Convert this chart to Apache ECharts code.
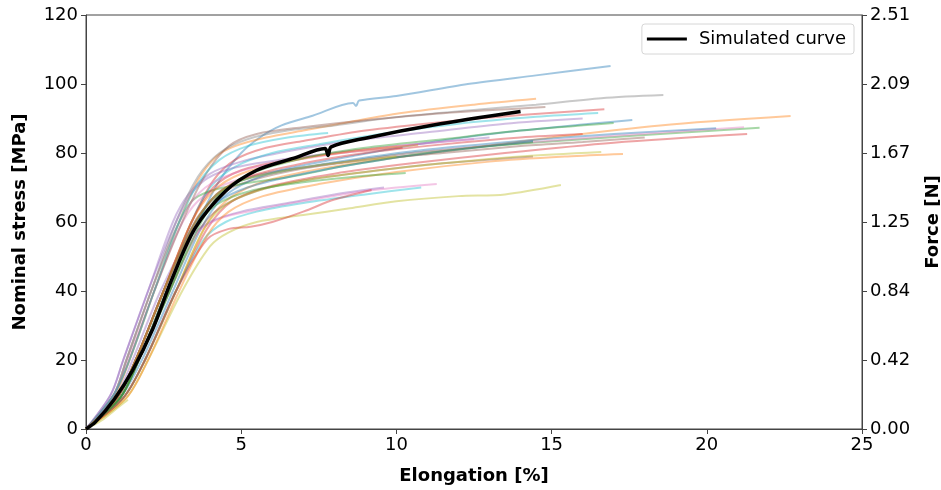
<!DOCTYPE html>
<html>
<head>
<meta charset="utf-8">
<script src="https://cdn.jsdelivr.net/npm/echarts@6/dist/echarts.min.js"></script>
<style>
  html, body { margin: 0; padding: 0; background: #fff; }
  #chart { width: 941px; height: 490px; }
</style>
</head>
<body>
<div id="chart"></div>
<script>
// x: elongation [%], y: nominal stress [MPa]
const simulated = [[0, 0], [0.3, 2], [0.9, 8.5], [1.5, 17], [2.15, 29], [2.75, 43], [3.5, 58], [4.5, 69], [5.5, 75],
  [6.7, 78.5], [7.7, 81.3], [7.8, 79.3], [7.9, 81.8], [9, 84.3], [11.2, 88.1], [14, 92]]

const stressTicks = [0, 20, 40, 60, 80, 100, 120]
const forceLabels = ['0.00', '0.42', '0.84', '1.25', '1.67', '2.09', '2.51']
const elongTicks = [0, 5, 10, 15, 20, 25]

// measured curves, one array per specimen
const expCurves = [
  [[0, 0], [1.0, 9], [1.7, 20], [2.6, 40], [3.5, 58], [4.3, 72], [5, 80], [5.6, 84.5], [6.3, 88], [7.3, 90.8], [8.6, 94.5], [8.7, 93.6], [8.8, 95.2], [10, 96.5], [12.3, 100], [14.5, 102.5], [16.9, 105.2]],
  [[0, 0], [0.9, 9], [1.4, 20], [2.2, 40], [3.0, 60], [3.6, 72], [4.2, 79], [4.8, 82], [5.8, 84.5], [7, 86.5], [8.5, 89], [10.1, 91.5], [12.5, 94], [14.5, 95.7]],
  [[0, 0], [1.1, 9], [1.7, 20], [2.7, 40], [3.6, 60], [4.2, 68], [5, 72], [6, 74.5], [8, 77], [10, 79.5], [13, 82], [16, 84], [19, 85.8], [21.7, 87.3]],
  [[0, 0], [1.0, 9], [1.6, 20], [2.5, 40], [3.4, 60], [4.1, 72], [4.8, 78], [5.8, 81.5], [7, 83.5], [9, 86.5], [11.5, 89], [14, 91], [16.7, 92.7]],
  [[0, 0], [0.8, 10], [1.2, 20], [2.0, 40], [2.8, 60], [3.3, 68], [4, 74], [5, 77.5], [6.5, 80.5], [8.5, 83.5], [11, 86], [13.5, 88.5], [16, 90]],
  [[0, 0], [1.1, 9], [1.7, 20], [2.6, 40], [3.5, 60], [4.3, 68], [5.3, 72], [7, 75.5], [9, 78], [11.5, 80], [14, 82], [16, 83.2], [18, 84.5]],
  [[0, 0], [0.9, 10], [1.35, 20], [2.2, 40], [3.0, 58], [3.6, 66], [4.5, 71], [6, 74.5], [8, 77], [10.5, 80], [13.5, 82.5], [17, 85], [21.2, 87.5]],
  [[0, 0], [0.9, 10], [1.3, 20], [2.1, 40], [2.9, 60], [3.6, 73], [4.3, 80], [5.2, 84], [6.5, 86.5], [8, 88], [10, 90.4], [12.5, 92.5], [14.5, 94], [16.6, 95.9], [18.6, 96.8]],
  [[0, 0], [1.3, 9], [2.0, 20], [3.1, 40], [4.0, 53], [4.6, 57], [5.5, 60], [7, 62], [8.5, 64], [10, 66], [12, 67.5], [13.5, 68], [15.3, 70.7]],
  [[0, 0], [1.0, 9], [1.6, 20], [2.5, 40], [3.4, 60], [4, 70], [4.8, 76], [6, 80], [7.5, 82.5], [9.5, 85.5], [12, 88.5], [14.5, 90.5], [16.5, 91.6]],
  [[0, 0], [1.1, 9], [1.8, 20], [2.8, 40], [3.7, 58], [4.4, 67], [5.3, 72], [6.5, 75.5], [8.5, 79], [11, 83], [14, 86.5], [17.6, 89.6]],
  [[0, 0], [1.2, 9], [1.9, 20], [2.9, 40], [3.8, 58], [4.5, 66], [5.5, 71], [7, 74.5], [9, 77.5], [12, 81], [15, 84.5], [18.5, 88], [22.7, 90.7]],
  [[0, 0], [0.9, 10], [1.3, 20], [2.1, 40], [2.9, 58], [3.4, 66], [4.0, 69], [5, 71], [6.5, 73], [8.5, 76.5], [11, 80], [14.4, 83.2]],
  [[0, 0], [1.2, 9], [1.9, 20], [2.9, 40], [3.9, 58], [4.7, 66], [6, 70.5], [8, 74], [10.5, 77], [13.5, 80], [17, 83], [21.3, 85.5]],
  [[0, 0], [1.0, 10], [1.5, 20], [2.4, 40], [3.3, 55], [4, 60], [5, 63], [6.5, 65.5], [8, 68], [9.6, 70]],
  [[0, 0], [1.1, 9], [1.7, 20], [2.7, 40], [3.6, 57], [4.3, 64], [5.5, 69], [7, 72], [9, 74.5], [11.5, 77], [14.4, 79]],
  [[0, 0], [1.0, 9], [1.6, 20], [2.5, 40], [3.5, 56], [4.3, 61], [5.5, 63.5], [7, 66], [9, 69], [11.3, 71]],
  [[0, 0], [1.0, 9], [1.6, 20], [2.5, 40], [3.4, 60], [4.1, 70], [5, 75], [6.5, 78], [8.2, 80], [10.2, 81.5]],
  [[0, 0], [1.2, 9], [1.9, 20], [2.9, 40], [3.8, 58], [4.5, 65], [5.5, 69], [7, 72], [9, 74.5], [11.5, 77], [14, 79], [16.6, 80.3]],
  [[0, 0], [1.2, 9], [1.9, 20], [2.9, 40], [3.8, 55], [4.5, 60], [5.5, 63], [7, 65.5], [9, 68], [10.8, 70]],
  [[0, 0], [1.0, 9], [1.6, 20], [2.5, 40], [3.4, 58], [4.1, 67], [5, 72], [6.5, 75], [8.5, 78], [11, 81], [14, 83.5], [17, 85.5], [20.3, 87.2]],
  [[0, 0], [1.3, 9], [2.0, 20], [3.0, 40], [3.9, 56], [4.6, 63], [5.7, 67.5], [7.5, 71], [10, 74.5], [13, 77.5], [15.5, 79], [17.3, 79.7]],
  [[0, 0], [1.1, 9], [1.7, 20], [2.6, 40], [3.5, 58], [4.2, 65], [5.3, 69], [7, 71.5], [8.5, 73], [10.3, 74.2]],
  [[0, 0], [1.2, 9], [1.9, 20], [2.9, 40], [3.9, 55], [4.6, 58], [5.3, 58.6], [6, 60], [7, 63], [8, 66.5], [9.2, 69.3]],
  [[0, 0], [0.8, 10], [1.2, 20], [2.0, 40], [2.8, 58], [3.3, 67], [3.8, 72], [4.5, 75], [5.5, 77], [7.5, 79.5], [10, 82], [13, 84.5]],
  [[0, 0], [0.9, 10], [1.4, 20], [2.2, 40], [3.1, 60], [3.8, 73], [4.6, 82], [5.5, 85.5], [7, 87.5], [9, 89.5], [11.5, 91.5], [14.8, 93.3]],
  [[0, 0], [0.9, 10], [1.3, 20], [2.1, 40], [2.9, 58], [3.5, 67], [4.2, 72], [5.5, 76], [7.5, 79], [10, 82], [12.5, 84]],
  [[0, 0], [0.5, 2.5], [1.0, 6], [1.35, 8.5]],
  [[0, 0], [0.9, 10], [1.4, 20], [2.2, 40], [3.0, 60], [3.6, 71], [4.3, 78], [5.2, 82], [6.5, 84.5], [7.8, 85.8]],
  [[0, 0], [1.0, 9], [1.6, 20], [2.5, 40], [3.4, 58], [4.1, 65], [5.2, 70], [7, 74], [9.5, 78], [12, 81], [14.4, 83.5]],
  [[0, 0], [1.0, 9], [1.6, 20], [2.5, 40], [3.4, 60], [4.1, 69], [5, 74], [6.5, 77.5], [8.5, 80.5], [10.7, 82.3]],
  [[0, 0], [1.1, 9], [1.7, 20], [2.7, 40], [3.6, 58], [4.3, 68], [5.3, 74], [7, 78.5], [9, 81.5], [11.5, 84], [14, 86.5], [17, 88.7]],
  [[0, 0], [1.0, 9], [1.6, 20], [2.5, 40], [3.4, 58], [4.2, 68], [5.2, 73], [7, 77], [9, 80], [11.5, 82.5], [14, 84.5], [16, 85.5]],
  [[0, 0], [1.0, 9], [1.6, 20], [2.5, 40], [3.4, 58], [4.1, 67], [5, 72], [6.5, 75], [8, 77], [10, 79]]
]

const tab10 = ['#1f77b4', '#ff7f0e', '#2ca02c', '#d62728', '#9467bd', '#8c564b', '#e377c2', '#7f7f7f', '#bcbd22', '#17becf']
const curveColors = [0, 1, 2, 3, 4, 5, 6, 7, 8, 9, 0, 1, 2, 3, 4, 5, 6, 3, 8, 9, 0, 1, 2, 3, 4, 5, 6, 8, 9, 0, 1, 2, 3, 8]

const font = 'DejaVu Sans'
const axisColor = '#444'

const series = expCurves.map(function(pts, i) {
  return {
    type: 'line',
    data: pts,
    showSymbol: false,
    symbol: 'none',
    smooth: 0.3,
    silent: true,
    lineStyle: { color: tab10[curveColors[i]], width: 2, opacity: 0.42 },
    z: 2
  }
})
series.push({
  name: 'Simulated curve',
  type: 'line',
  data: simulated,
  symbol: 'none',
  smooth: 0.3,
  lineStyle: { color: '#000', width: 3.5 },
  itemStyle: { color: '#000' },
  z: 5
})

const chart = echarts.init(document.getElementById('chart'), null, { renderer: 'canvas' })
chart.setOption({
  animation: false,
  backgroundColor: '#fff',
  textStyle: { fontFamily: font },
  grid: {
    left: 86, right: 79, top: 15, bottom: 61,
    containLabel: false,
    outerBoundsMode: 'none',
    show: true, borderColor: axisColor, borderWidth: 1, backgroundColor: 'transparent'
  },
  legend: {
    data: ['Simulated curve'],
    right: 87,
    top: 24,
    padding: [6, 8, 6, 5],
    itemWidth: 40,
    itemHeight: 3,
    icon: 'rect',
    borderColor: '#d6d6d6',
    borderWidth: 1,
    borderRadius: 3,
    backgroundColor: '#fff',
    textStyle: { fontFamily: font, fontSize: 18, color: '#000', padding: [0, 0, 0, 7] }
  },
  xAxis: {
    type: 'value',
    min: elongTicks[0],
    max: elongTicks[elongTicks.length - 1],
    interval: 5,
    name: 'Elongation [%]',
    nameLocation: 'middle',
    nameGap: 38,
    nameTextStyle: { fontFamily: font, fontSize: 18, fontWeight: 'bold', color: '#000' },
    axisLine: { onZero: false, lineStyle: { color: axisColor, width: 1 } },
    axisTick: { show: true, length: 5, lineStyle: { color: axisColor } },
    axisLabel: { fontFamily: font, fontSize: 18, color: '#000', margin: 7 },
    splitLine: { show: false }
  },
  yAxis: [
    {
      type: 'value',
      min: stressTicks[0],
      max: stressTicks[stressTicks.length - 1],
      interval: 20,
      name: 'Nominal stress [MPa]',
      nameLocation: 'middle',
      nameGap: 57,
      nameRotate: 90,
      nameTextStyle: { fontFamily: font, fontSize: 18, fontWeight: 'bold', color: '#000' },
      axisLine: { show: true, onZero: false, lineStyle: { color: axisColor, width: 1 } },
      axisTick: { show: true, length: 5, lineStyle: { color: axisColor } },
      axisLabel: { fontFamily: font, fontSize: 18, color: '#000', margin: 8 },
      splitLine: { show: false }
    },
    {
      type: 'value',
      position: 'right',
      min: stressTicks[0],
      max: stressTicks[stressTicks.length - 1],
      interval: 20,
      name: 'Force [N]',
      nameLocation: 'middle',
      nameGap: 62,
      nameRotate: 90,
      nameTextStyle: { fontFamily: font, fontSize: 18, fontWeight: 'bold', color: '#000' },
      axisLine: { show: true, onZero: false, lineStyle: { color: axisColor, width: 1 } },
      axisTick: { show: true, length: 5, lineStyle: { color: axisColor } },
      axisLabel: {
        fontFamily: font, fontSize: 18, color: '#000', margin: 8,
        formatter: function(v) { return forceLabels[stressTicks.indexOf(v)] }
      },
      splitLine: { show: false }
    }
  ],
  series: series
})
</script>
</body>
</html>
